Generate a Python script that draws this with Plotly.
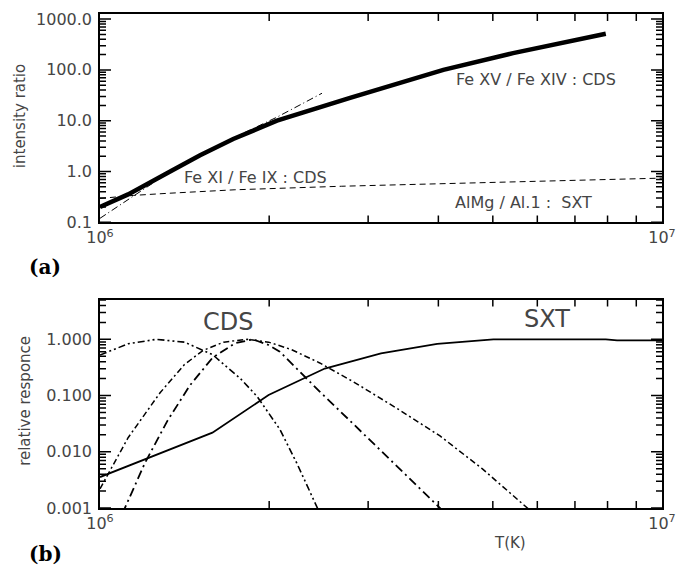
import plotly.graph_objects as go

# ---------------- data ----------------
# panel (a): intensity ratios vs temperature (K)
fe15_T = [1.0e6, 1.122e6, 1.343e6, 1.507e6, 1.726e6, 2.065e6, 2.786e6, 3.373e6, 4.083e6, 5.433e6, 7.943e6]
fe15_ratio = [0.200, 0.355, 1.047, 2.089, 4.365, 10.0, 28.2, 53.7, 100.0, 214.0, 513.0]

fe11_T = [1.0e6, 1.135e6, 1.334e6, 1.683e6, 2.065e6, 2.483e6]
fe11_ratio = [0.120, 0.309, 1.0, 3.98, 11.75, 34.7]

sxt_ratio_T = [1.0e6, 1.148e6, 1.318e6, 1.738e6, 2.692e6, 6.026e6, 1.0e7]
sxt_ratio = [0.295, 0.339, 0.372, 0.437, 0.513, 0.646, 0.741]

# panel (b): relative responses
cdsA_T = [1.0e6, 1.122e6, 1.259e6, 1.413e6, 1.585e6, 1.778e6, 1.905e6, 2.089e6, 2.239e6, 2.455e6]
cdsA_resp = [0.525, 0.832, 1.0, 0.891, 0.537, 0.200, 0.0955, 0.0251, 0.00631, 0.00085]

cdsB_T = [1.096e6, 1.202e6, 1.318e6, 1.445e6, 1.585e6, 1.738e6, 1.871e6, 1.995e6, 2.089e6, 2.239e6,
          2.460e6, 2.786e6, 3.162e6, 3.548e6, 4.074e6]
cdsB_resp = [0.000794, 0.00631, 0.0355, 0.151, 0.468, 0.851, 1.0, 0.794, 0.603, 0.302,
             0.1175, 0.0355, 0.01047, 0.00339, 0.000891]

cdsC_T = [1.0e6, 1.122e6, 1.279e6, 1.413e6, 1.524e6, 1.660e6, 1.828e6, 1.995e6, 2.188e6, 2.460e6,
          2.818e6, 3.365e6, 4.027e6, 4.786e6, 5.821e6]
cdsC_resp = [0.00219, 0.0178, 0.112, 0.355, 0.631, 0.891, 1.0, 0.891, 0.661, 0.380,
             0.178, 0.0603, 0.0191, 0.00501, 0.000912]

sxt_T = [1.0e6, 1.585e6, 1.995e6, 2.512e6, 3.162e6, 3.981e6, 5.012e6, 6.310e6, 7.943e6, 8.318e6, 1.0e7]
sxt_resp = [0.00355, 0.0219, 0.102, 0.302, 0.562, 0.832, 1.0, 1.0, 1.0, 0.955, 0.955]

# tick definitions
x_major = [1e6, 1e7]
x_major_text = ["10<sup>6</sup>", "10<sup>7</sup>"]
x_minor = [2e6, 3e6, 4e6, 5e6, 6e6, 7e6, 8e6, 9e6]
ya_major = [0.1, 1.0, 10.0, 100.0, 1000.0]
ya_major_text = ["0.1", "1.0", "10.0", "100.0", "1000.0"]
yb_major = [0.001, 0.01, 0.1, 1.0]
yb_major_text = ["0.001", "0.010", "0.100", "1.000"]

labels_a = ["Fe XV / Fe XIV : CDS", "Fe XI / Fe IX : CDS", "AlMg / Al.1 :  SXT"]
labels_b = ["CDS", "SXT"]

# axis ranges (log10 units)
X_RANGE = [6.0, 7.0]
YA_RANGE = [-1.0, 3.1]
YB_RANGE = [-3.0, 0.705]


def minor_vals(lo_exp, hi_exp, top=None):
    vals = []
    for e in range(lo_exp, hi_exp + 1):
        for m in range(2, 10):
            v = m * 10.0 ** e
            if top is None or v <= top:
                vals.append(v)
    return vals


FONT = "DejaVu Sans"
TXT = "#454545"
PLOT_W = 562.0
PLOT_H = 210.0

ya_minor = minor_vals(-1, 3, 1250)
yb_minor = minor_vals(-3, 0, 5.1)

fig = go.Figure()

# ---- panel (a)
fig.add_trace(go.Scatter(x=fe15_T, y=fe15_ratio, mode="lines", xaxis="x", yaxis="y",
                         line=dict(color="black", width=4.5), showlegend=False))
fig.add_trace(go.Scatter(x=fe11_T, y=fe11_ratio, mode="lines", xaxis="x", yaxis="y",
                         line=dict(color="black", width=1, dash="7px,3px,1px,3px"), showlegend=False))
fig.add_trace(go.Scatter(x=sxt_ratio_T, y=sxt_ratio, mode="lines", xaxis="x", yaxis="y",
                         line=dict(color="black", width=1, dash="6px,4px"), showlegend=False))

# ---- panel (b)
fig.add_trace(go.Scatter(x=cdsA_T, y=cdsA_resp, mode="lines", xaxis="x2", yaxis="y2",
                         line=dict(color="black", width=1.6, dash="7px,3px,2px,3px,2px,3px"), showlegend=False))
fig.add_trace(go.Scatter(x=cdsB_T, y=cdsB_resp, mode="lines", xaxis="x2", yaxis="y2",
                         line=dict(color="black", width=1.8, dash="9px,4px,2px,4px"), showlegend=False))
fig.add_trace(go.Scatter(x=cdsC_T, y=cdsC_resp, mode="lines", xaxis="x2", yaxis="y2",
                         line=dict(color="black", width=1.5, dash="6px,3px,2px,3px"), showlegend=False))
fig.add_trace(go.Scatter(x=sxt_T, y=sxt_resp, mode="lines", xaxis="x2", yaxis="y2",
                         line=dict(color="black", width=1.8), showlegend=False))


# ---- inward tick marks on all four sides, built from the tick arrays and axis ranges
def tick_trace(xname, yname, yrange, y_major_vals, y_minor_vals):
    xs, ys = [], []
    x_lo, x_hi = 10 ** X_RANGE[0], 10 ** X_RANGE[1]
    y_lo, y_hi = 10 ** yrange[0], 10 ** yrange[1]
    x_dec_per_px = (X_RANGE[1] - X_RANGE[0]) / PLOT_W
    y_dec_per_px = (yrange[1] - yrange[0]) / PLOT_H
    for vals, length in ((y_major_vals, 11), (y_minor_vals, 6)):
        f = 10 ** (length * x_dec_per_px)
        for v in vals:
            xs += [x_lo, x_lo * f, None, x_hi / f, x_hi, None]
            ys += [v, v, None, v, v, None]
    g = 10 ** (7 * y_dec_per_px)
    for t in x_minor:
        xs += [t, t, None, t, t, None]
        ys += [y_lo, y_lo * g, None, y_hi / g, y_hi, None]
    return go.Scatter(x=xs, y=ys, mode="lines", xaxis=xname, yaxis=yname,
                      line=dict(color="black", width=1.5), hoverinfo="skip",
                      showlegend=False, cliponaxis=False)


fig.add_trace(tick_trace("x", "y", YA_RANGE, ya_major, ya_minor))
fig.add_trace(tick_trace("x2", "y2", YB_RANGE, yb_major, yb_minor))

tickfont = dict(family=FONT, size=16, color=TXT)
xcommon = dict(type="log", range=X_RANGE, tickmode="array",
               tickvals=x_major, ticktext=x_major_text, ticks="",
               showline=True, linecolor="black", linewidth=1.6, mirror=True,
               showgrid=False, zeroline=False, tickfont=tickfont, fixedrange=True)


def yaxis_def(domain, rng, majors, major_text, anchor):
    return dict(domain=domain, anchor=anchor, type="log", range=rng,
                tickmode="array", tickvals=majors, ticktext=major_text, ticks="",
                showline=True, linecolor="black", linewidth=1.6, mirror=True,
                showgrid=False, zeroline=False, tickfont=tickfont, ticklabelstandoff=3,
                fixedrange=True)


fig.update_layout(
    width=686, height=570,
    margin=dict(l=100, r=24, t=10, b=62),
    paper_bgcolor="white", plot_bgcolor="white",
    xaxis=dict(domain=[0, 1], anchor="y", **xcommon),
    xaxis2=dict(domain=[0, 1], anchor="y2", **xcommon),
    yaxis=yaxis_def([0.5783, 1.0], YA_RANGE, ya_major, ya_major_text, "x"),
    yaxis2=yaxis_def([0.0, 0.4217], YB_RANGE, yb_major, yb_major_text, "x2"),
)

ann = []
ann.append(dict(text=labels_a[0], x=6.776, y=1.81, xref="x", yref="y", showarrow=False,
                font=dict(family=FONT, size=16, color=TXT)))
ann.append(dict(text=labels_a[1], x=6.276, y=-0.122, xref="x", yref="y", showarrow=False,
                font=dict(family=FONT, size=16, color=TXT)))
ann.append(dict(text=labels_a[2], x=6.753, y=-0.61, xref="x", yref="y", showarrow=False,
                font=dict(family=FONT, size=16, color=TXT)))
ann.append(dict(text=labels_b[0], x=6.228, y=0.30, xref="x2", yref="y2", showarrow=False,
                font=dict(family=FONT, size=24, color=TXT)))
ann.append(dict(text=labels_b[1], x=6.795, y=0.37, xref="x2", yref="y2", showarrow=False,
                font=dict(family=FONT, size=24, color=TXT)))
# axis titles
ann.append(dict(text="intensity ratio", x=(20 - 100) / 562, y=(508 - 113) / 498, xref="paper", yref="paper",
                textangle=-90, showarrow=False, xanchor="center", yanchor="middle",
                font=dict(family=FONT, size=15, color=TXT)))
ann.append(dict(text="relative responce", x=(25 - 100) / 562, y=(508 - 400) / 498, xref="paper", yref="paper",
                textangle=-90, showarrow=False, xanchor="center", yanchor="middle",
                font=dict(family=FONT, size=15, color=TXT)))
ann.append(dict(text="T(K)", x=(510 - 100) / 562, y=(508 - 543) / 498, xref="paper", yref="paper",
                showarrow=False, xanchor="center", yanchor="middle",
                font=dict(family=FONT, size=15, color=TXT)))
# panel letters
ann.append(dict(text="<b>(a)</b>", x=(45 - 100) / 562, y=(508 - 265) / 498, xref="paper", yref="paper",
                showarrow=False, xanchor="center", yanchor="middle",
                font=dict(family="DejaVu Serif", size=20, color="black")))
ann.append(dict(text="<b>(b)</b>", x=(45 - 100) / 562, y=(508 - 554) / 498, xref="paper", yref="paper",
                showarrow=False, xanchor="center", yanchor="middle",
                font=dict(family="DejaVu Serif", size=20, color="black")))
fig.update_layout(annotations=ann)

fig.write_html("out.html", config={"displayModeBar": False},
               post_script="document.body.style.margin='0px';")
